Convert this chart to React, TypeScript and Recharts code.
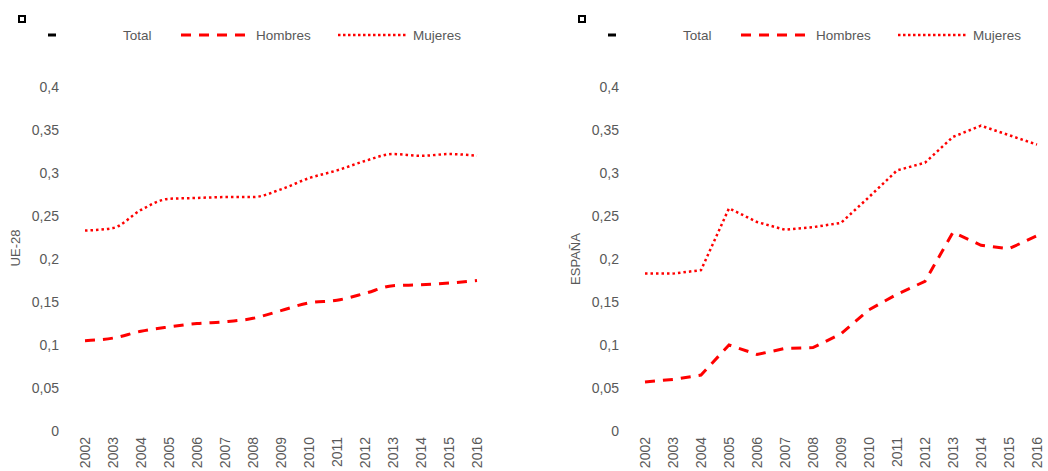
import React from 'react';
import { LineChart, Line, XAxis, YAxis } from 'recharts';

const years = ['2002', '2003', '2004', '2005', '2006', '2007', '2008', '2009', '2010', '2011', '2012', '2013', '2014', '2015', '2016'];
const ueHombres = [0.105, 0.108, 0.116, 0.121, 0.125, 0.127, 0.131, 0.140, 0.149, 0.152, 0.160, 0.169, 0.170, 0.172, 0.175];
const ueMujeres = [0.233, 0.236, 0.257, 0.270, 0.271, 0.272, 0.272, 0.281, 0.294, 0.303, 0.314, 0.322, 0.320, 0.322, 0.320];
const esHombres = [0.057, 0.060, 0.065, 0.100, 0.089, 0.096, 0.097, 0.113, 0.141, 0.159, 0.174, 0.231, 0.216, 0.212, 0.227];
const esMujeres = [0.183, 0.183, 0.187, 0.259, 0.243, 0.234, 0.237, 0.242, 0.272, 0.303, 0.312, 0.342, 0.355, 0.344, 0.333];
const yTicks = [0, 0.05, 0.1, 0.15, 0.2, 0.25, 0.3, 0.35, 0.4];

const FONT = '"Liberation Sans", Arial, sans-serif';
const GRAY = '#595959';
const RED = '#FF0000';

const build = (h: number[], m: number[]) => years.map((y, i) => ({ year: y, Hombres: h[i], Mujeres: m[i] }));

const fmt = (v: number) => String(v).replace('.', ',');

const XTick = (props: any) => {
  const { x, y, payload } = props;
  return (
    <g transform={`translate(${x},${y})`}>
      <text transform="rotate(-90)" textAnchor="end" dominantBaseline="central" fill={GRAY} fontSize={14} fontFamily={FONT}>
        {payload.value}
      </text>
    </g>
  );
};

const Legend = () => (
  <div style={{ position: 'absolute', left: 0, top: 0, width: 480, height: 60, fontFamily: FONT, fontSize: 13.5, color: GRAY }}>
    <div style={{ position: 'absolute', left: 18, top: 15, width: 4, height: 4, border: '2px solid #000' }} />
    <svg style={{ position: 'absolute', left: 48, top: 29 }} width={64} height={12}>
      <line x1={0} y1={6} x2={64} y2={6} stroke="#000" strokeWidth={3} strokeDasharray="8 200" />
    </svg>
    <span style={{ position: 'absolute', left: 123, top: 28 }}>Total</span>
    <svg style={{ position: 'absolute', left: 181, top: 29 }} width={64} height={12}>
      <line x1={0} y1={6} x2={64} y2={6} stroke={RED} strokeWidth={3} strokeDasharray="10 8" />
    </svg>
    <span style={{ position: 'absolute', left: 256, top: 28 }}>Hombres</span>
    <svg style={{ position: 'absolute', left: 338, top: 29 }} width={70} height={12}>
      <line x1={0} y1={6} x2={70} y2={6} stroke={RED} strokeWidth={2.5} strokeDasharray="2.5 2.5" />
    </svg>
    <span style={{ position: 'absolute', left: 413, top: 28 }}>Mujeres</span>
  </div>
);

const Panel = ({ data, width, right, label, labelDy, curve }: any) => (
  <div style={{ position: 'relative', width, height: 471 }}>
    <Legend />
    <LineChart width={width} height={471} data={data} margin={{ top: 87, right, left: 0, bottom: 0 }}>
      <XAxis dataKey="year" height={40} tickLine={false} axisLine={false} interval={0} tick={<XTick />} tickMargin={0} />
      <YAxis
        width={85}
        domain={[0, 0.4]}
        ticks={yTicks}
        tickLine={false}
        axisLine={false}
        tickMargin={20}
        tickFormatter={fmt}
        tick={{ fill: GRAY, fontSize: 14, fontFamily: FONT }}
        label={(p: any) => {
          const vb = p.viewBox;
          const cx = vb.x + 15;
          const cy = vb.y + vb.height / 2 + labelDy;
          return (
            <text x={cx} y={cy} transform={`rotate(-90, ${cx}, ${cy})`} textAnchor="middle" dominantBaseline="central" fill={GRAY} fontSize={13} fontFamily={FONT}>
              {label}
            </text>
          );
        }}
      />
      <Line type={curve} dataKey="Hombres" stroke={RED} strokeWidth={3} strokeDasharray="10 8" dot={false} isAnimationActive={false} />
      <Line type={curve} dataKey="Mujeres" stroke={RED} strokeWidth={2.5} strokeDasharray="2.5 3" dot={false} isAnimationActive={false} />
    </LineChart>
  </div>
);

export default function App() {
  return (
    <div style={{ position: 'absolute', left: 0, top: 0, width: 1048, height: 471, background: '#fff', display: 'flex' }}>
      <Panel data={build(ueHombres, ueMujeres)} width={560} right={83} label="UE-28" labelDy={-11} curve="monotone" />
      <Panel data={build(esHombres, esMujeres)} width={488} right={11} label="ESPAÑA" labelDy={0} curve="linear" />
    </div>
  );
}
